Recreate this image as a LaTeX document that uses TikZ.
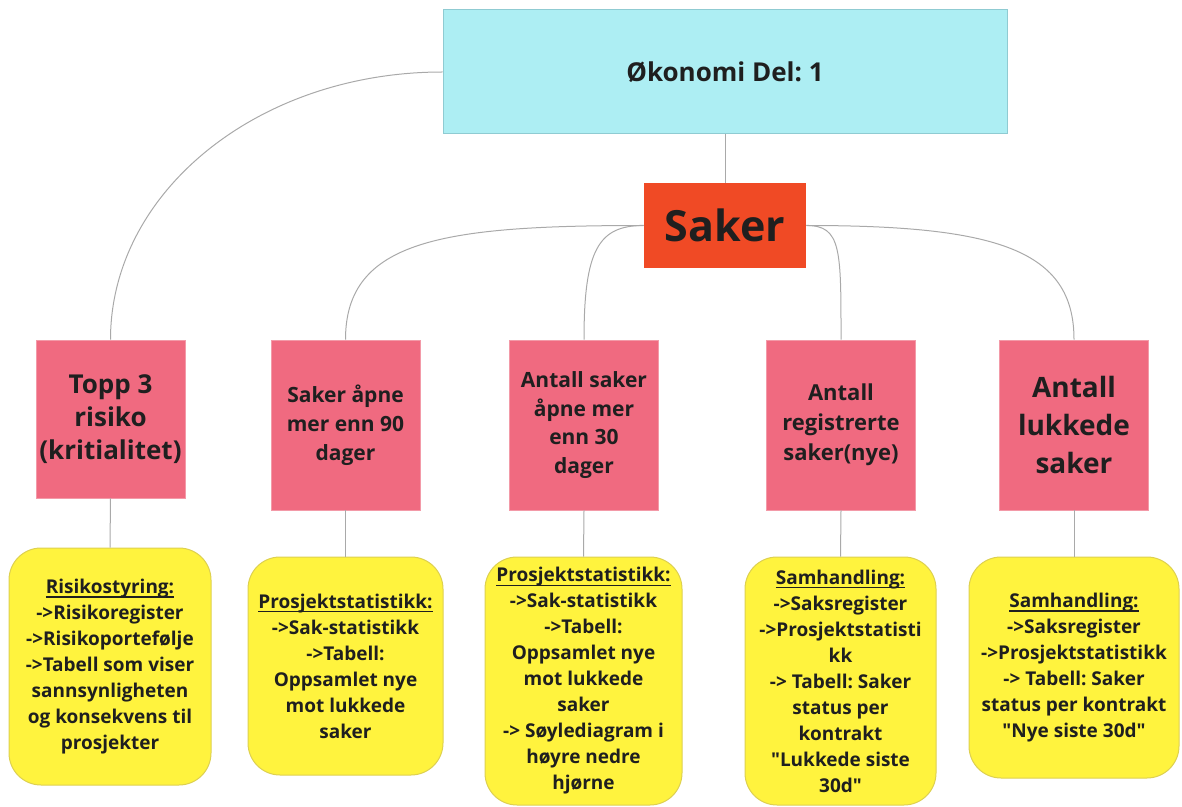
\documentclass[tikz,border=0pt]{standalone}
\usepackage{fontspec}
\setmainfont{Open Sans}
\usepackage{xcolor}
\usepackage{tikz}
\definecolor{HeadCyan}{HTML}{ADEEF3}
\definecolor{HeadLine}{HTML}{8FCBD2}
\definecolor{HubRed}{HTML}{F04A25}
\definecolor{TopicPink}{HTML}{F06A80}
\definecolor{TopicLine}{HTML}{F39AA8}
\definecolor{NoteYellow}{HTML}{FFF33E}
\definecolor{NoteLine}{HTML}{DDD050}
\definecolor{LinkGray}{HTML}{A9A9A9}
\definecolor{InkDark}{HTML}{1F1F1F}
\frenchspacing
% underlined heading, rule close to the baseline
\newcommand{\uhead}[1]{\setbox0\hbox{#1}\rlap{\rule[-2.1pt]{\wd0}{0.8pt}}\box0}
\newcommand{\qt}{\textquotedbl}

\begin{document}
\begin{tikzpicture}[x=0.5pt, y=-0.5pt,
                    every node/.style={inner sep=0pt, align=center, text=InkDark, font=\bfseries},
                    head/.style={fill=HeadCyan, draw=HeadLine, line width=0.5pt,
                                 minimum width=282pt, minimum height=62pt,
                                 font=\bfseries\fontsize{13}{16}\selectfont},
                    hub/.style={fill=HubRed, minimum width=81pt, minimum height=42.5pt,
                                font=\bfseries\fontsize{21.5}{26}\selectfont},
                    topic/.style={fill=TopicPink, draw=TopicLine, line width=0.4pt,
                                  minimum width=74.5pt, minimum height=85pt},
                    note/.style={fill=NoteYellow, draw=NoteLine, line width=0.5pt, rounded corners=16pt,
                                 font=\bfseries\fontsize{9.5}{13}\selectfont},
                    link/.style={draw=LinkGray, line width=0.5pt}]
\useasboundingbox (0,0) rectangle (1182,807);

% top of the tree
\node[head] (oko) at (725,72) {Økonomi Del: 1};
\node[hub] (saker) at (725,225.5) {Saker};

% the five measures
\node[topic, minimum height=79pt, font=\bfseries\fontsize{13}{16.5}\selectfont] (topp) at (110.5,419)
  {Topp 3\\risiko\\(kritialitet)};
\node[topic, font=\bfseries\fontsize{10.5}{14.5}\selectfont] (apne90) at (345.5,425)
  {Saker åpne\\mer enn 90\\dager};
\node[topic, font=\bfseries\fontsize{10.5}{14.3}\selectfont] (apne30) at (584,425)
  {Antall saker\\åpne mer\\enn 30\\dager};
\node[topic, font=\bfseries\fontsize{11}{15}\selectfont] (nye) at (841,425)
  {Antall\\registrerte\\saker(nye)};
\node[topic, font=\bfseries\fontsize{14}{19}\selectfont] (lukket) at (1074,425)
  {Antall\\lukkede\\saker};

% sources under each measure
\node[note, minimum width=101pt, minimum height=118.5pt] (risiko) at (110,666.5)
  {\uhead{Risikostyring:}\\->Risikoregister\\->Risikoportefølje\\->Tabell som viser\\sannsynligheten\\og konsekvens til\\prosjekter};
\node[note, minimum width=97.5pt, minimum height=109pt] (stat90) at (345.5,666)
  {\uhead{Prosjektstatistikk:}\\->Sak-statistikk\\->Tabell:\\Oppsamlet nye\\mot lukkede\\saker};
\node[note, minimum width=98.5pt, minimum height=124pt] (stat30) at (583.5,681)
  {\uhead{Prosjektstatistikk:}\\->Sak-statistikk\\->Tabell:\\Oppsamlet nye\\mot lukkede\\saker\\-> Søylediagram i\\høyre nedre\\hjørne};
\node[note, minimum width=95.5pt, minimum height=124pt] (samnye) at (840.5,681)
  {\uhead{Samhandling:}\\->Saksregister\\->Prosjektstatisti\\kk\\-> Tabell: Saker\\status per\\kontrakt\\\qt Lukkede siste\\30d\qt};
\node[note, minimum width=105pt, minimum height=110.5pt] (samluk) at (1074,667.5)
  {\uhead{Samhandling:}\\->Saksregister\\->Prosjektstatistikk\\-> Tabell: Saker\\status per kontrakt\\\qt Nye siste 30d\qt};

% connectors
\draw[link] (oko.west) .. controls +(-184,0) and +(0,-148) .. (topp.north);
\draw[link] (oko.south) -- (saker.north);
\draw[link] (saker.west) .. controls +(-200,0) and +(0,-100) .. (apne90.north);
\draw[link] (saker.west) .. controls +(-45,0) and +(0,-90) .. (apne30.north);
\draw[link] (saker.east) .. controls +(35,0) and +(0,-90) .. (nye.north);
\draw[link] (saker.east) .. controls +(190,0) and +(0,-90) .. (lukket.north);
\draw[link] (topp.south) -- (risiko.north);
\draw[link] (apne90.south) -- (stat90.north);
\draw[link] (apne30.south) -- (stat30.north);
\draw[link] (nye.south) -- (samnye.north);
\draw[link] (lukket.south) -- (samluk.north);
\end{tikzpicture}
\end{document}
